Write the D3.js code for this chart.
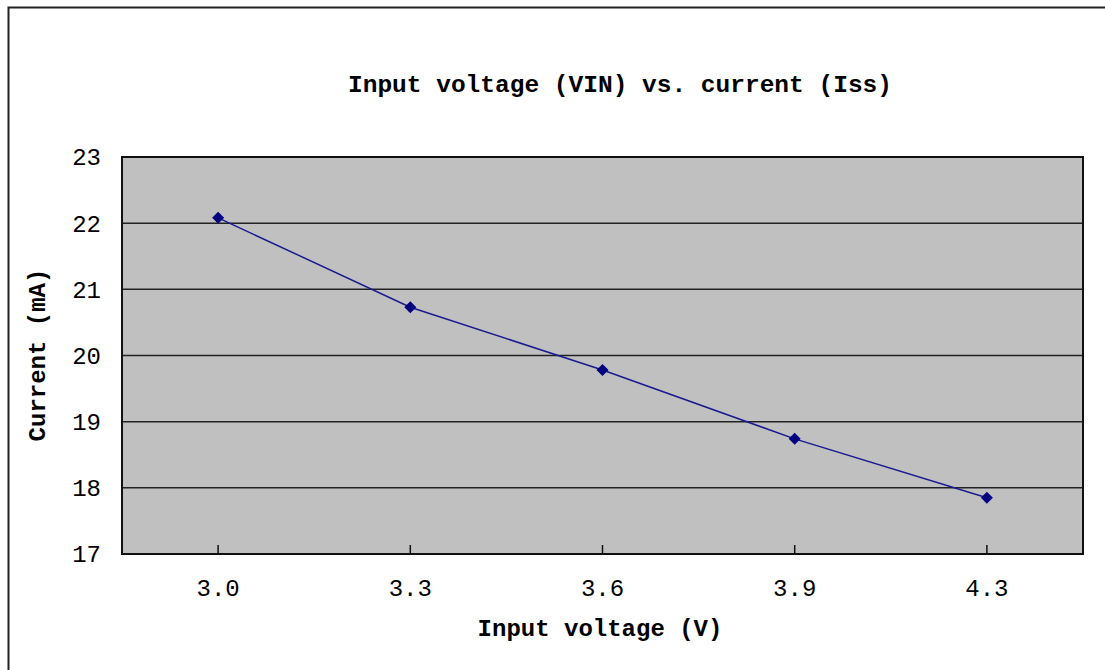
<!DOCTYPE html>
<html>
<head>
<meta charset="utf-8">
<script src="https://cdn.jsdelivr.net/npm/d3@7"></script>
<style>
  body { margin: 0; background: #fff; }
  text { font-family: "Liberation Mono", "DejaVu Sans Mono", monospace; fill: #000; }
</style>
</head>
<body>
<script>
// chart data
var voltages = ["3.0", "3.3", "3.6", "3.9", "4.3"];
var currents = [22.08, 20.73, 19.78, 18.74, 17.85];
var yTicks = [17, 18, 19, 20, 21, 22, 23];

var width = 1105, height = 670;
var plotLeft = 122, plotRight = 1083, plotTop = 157, plotBottom = 554;

var svg = d3.select("body").append("svg")
    .attr("width", width)
    .attr("height", height);

// outer chart border (right and bottom run off the picture)
svg.append("rect")
    .attr("x", 8.5).attr("y", 7.5)
    .attr("width", 1200).attr("height", 800)
    .attr("fill", "#fff")
    .attr("stroke", "#222")
    .attr("stroke-width", 2);

var x = d3.scaleBand().domain(voltages).range([plotLeft, plotRight]);
var y = d3.scaleLinear().domain([17, 23]).range([plotBottom, plotTop]);
function cx(v) { return x(v) + x.bandwidth() / 2; }

// plot area
svg.append("rect")
    .attr("x", plotLeft).attr("y", plotTop)
    .attr("width", plotRight - plotLeft).attr("height", plotBottom - plotTop)
    .attr("fill", "#c0c0c0");

// gridlines
svg.append("g")
    .selectAll("line")
    .data(yTicks.slice(1, -1))
    .enter().append("line")
    .attr("x1", plotLeft).attr("x2", plotRight)
    .attr("y1", function(d) { return y(d); })
    .attr("y2", function(d) { return y(d); })
    .attr("stroke", "#222")
    .attr("stroke-width", 1.5);

svg.append("rect")
    .attr("x", plotLeft).attr("y", plotTop)
    .attr("width", plotRight - plotLeft).attr("height", plotBottom - plotTop)
    .attr("fill", "none")
    .attr("stroke", "#111")
    .attr("stroke-width", 2);

// x ticks point inward at category centres
svg.append("g")
    .selectAll("line")
    .data(voltages)
    .enter().append("line")
    .attr("x1", cx).attr("x2", cx)
    .attr("y1", plotBottom).attr("y2", plotBottom - 9)
    .attr("stroke", "#111")
    .attr("stroke-width", 1.5);

// x tick labels
svg.append("g")
    .selectAll("text")
    .data(voltages)
    .enter().append("text")
    .attr("x", cx)
    .attr("y", 596)
    .attr("text-anchor", "middle")
    .attr("font-size", 24)
    .text(function(d) { return d; });

// y tick labels
svg.append("g")
    .selectAll("text")
    .data(yTicks)
    .enter().append("text")
    .attr("x", 101)
    .attr("y", function(d) { return y(d); })
    .attr("dy", "0.35em")
    .attr("text-anchor", "end")
    .attr("font-size", 24)
    .text(function(d) { return d; });

// line
var line = d3.line()
    .x(function(d, i) { return cx(voltages[i]); })
    .y(function(d) { return y(d); });

svg.append("path")
    .datum(currents)
    .attr("d", line)
    .attr("fill", "none")
    .attr("stroke", "#1a1a90")
    .attr("stroke-width", 1.5);

// square markers turned 45deg, like Excel diamonds
svg.append("g")
    .selectAll("path")
    .data(currents)
    .enter().append("path")
    .attr("d", d3.symbol().type(d3.symbolSquare).size(72))
    .attr("transform", function(d, i) {
      return "translate(" + cx(voltages[i]) + "," + y(d) + ") rotate(45)";
    })
    .attr("fill", "#000080");

// titles
svg.append("text")
    .attr("x", 620).attr("y", 92)
    .attr("text-anchor", "middle")
    .attr("font-size", 24.5)
    .attr("font-weight", "bold")
    .text("Input voltage (VIN) vs. current (Iss)");

svg.append("text")
    .attr("x", 600).attr("y", 636)
    .attr("text-anchor", "middle")
    .attr("font-size", 24)
    .attr("font-weight", "bold")
    .text("Input voltage (V)");

svg.append("text")
    .attr("transform", "translate(45,355) rotate(-90)")
    .attr("text-anchor", "middle")
    .attr("font-size", 24)
    .attr("font-weight", "bold")
    .text("Current (mA)");
</script>
</body>
</html>
